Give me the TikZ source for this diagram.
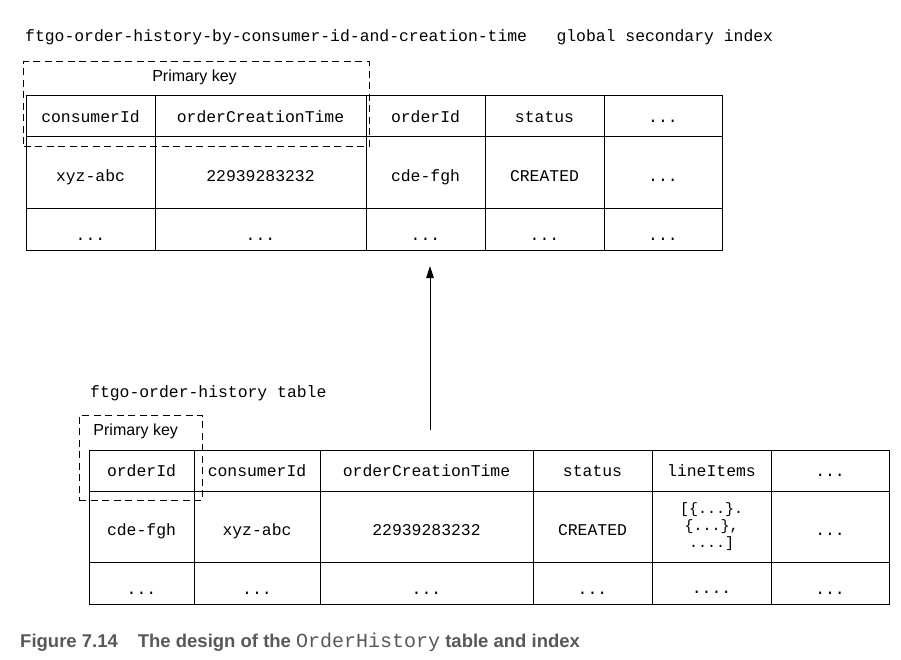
\documentclass[tikz,border=0pt]{standalone}
\usepackage{fontspec}
\setmainfont{Liberation Sans}
\setmonofont{Liberation Mono}
\usepackage{tikz}
\usetikzlibrary{positioning,arrows.meta}

\definecolor{capgray}{RGB}{88,88,88}
\newcommand\cellfont{\ttfamily\fontsize{16.4}{18}\selectfont}

\tikzset{
  cell/.style={draw, rectangle, inner sep=0pt, outer sep=0pt, line width=1pt, font=\cellfont},
  hdr/.style={cell, minimum height=41pt, text height=13.6pt, text depth=2pt},
  dat/.style={cell, minimum height=71.5pt, text height=21pt, text depth=3pt},
  etc/.style={cell, minimum height=42pt, text height=25pt, text depth=3pt},
  keybox/.style={draw, dash pattern=on 7pt off 4.5pt, line width=1pt, inner sep=0pt, outer sep=0pt, anchor=north west},
  keylabel/.style={font=\fontsize{16}{19}\selectfont, anchor=base, inner sep=0pt},
  tabletitle/.style={font=\cellfont, anchor=base west, inner sep=0pt},
}

\begin{document}
\begin{tikzpicture}[x=1pt,y=-1pt]
   \useasboundingbox (0,0) rectangle (901,660);

   % global secondary index
   \node[tabletitle] (gtitle) at (25,42) {ftgo-order-history-by-consumer-id-and-creation-time\ \ \ global secondary index};
   \node[hdr, minimum width=129pt, anchor=north west] (gh1) at (26,96) {consumerId};
   \node[hdr, minimum width=211pt, right=0pt of gh1] (gh2) {orderCreationTime};
   \node[hdr, minimum width=119pt, right=0pt of gh2] (gh3) {orderId};
   \node[hdr, minimum width=119pt, right=0pt of gh3] (gh4) {status};
   \node[hdr, minimum width=118pt, right=0pt of gh4] (gh5) {...};
   \node[dat, minimum width=129pt, below=0pt of gh1] (gd1) {xyz-abc};
   \node[dat, minimum width=211pt, below=0pt of gh2] (gd2) {22939283232};
   \node[dat, minimum width=119pt, below=0pt of gh3] (gd3) {cde-fgh};
   \node[dat, minimum width=119pt, below=0pt of gh4] (gd4) {CREATED};
   \node[dat, minimum width=118pt, below=0pt of gh5] (gd5) {...};
   \node[etc, minimum width=129pt, below=0pt of gd1] (ge1) {...};
   \node[etc, minimum width=211pt, below=0pt of gd2] (ge2) {...};
   \node[etc, minimum width=119pt, below=0pt of gd3] (ge3) {...};
   \node[etc, minimum width=119pt, below=0pt of gd4] (ge4) {...};
   \node[etc, minimum width=118pt, below=0pt of gd5] (ge5) {...};
   \node[keybox, minimum width=345.6pt, minimum height=84.3pt] (gkey) at (23.7,62) {};
   \node[keylabel] (gkeylbl) at (194.5,82) {Primary key};

   % order history table
   \node[tabletitle] (otitle) at (90,397) {ftgo-order-history table};
   \node[hdr, minimum width=105pt, anchor=north west] (oh1) at (89,450) {orderId};
   \node[hdr, minimum width=126pt, right=0pt of oh1] (oh2) {consumerId};
   \node[hdr, minimum width=213pt, right=0pt of oh2] (oh3) {orderCreationTime};
   \node[hdr, minimum width=119pt, right=0pt of oh3] (oh4) {status};
   \node[hdr, minimum width=119pt, right=0pt of oh4] (oh5) {lineItems};
   \node[hdr, minimum width=118pt, right=0pt of oh5] (oh6) {...};
   \node[dat, minimum width=105pt, below=0pt of oh1] (od1) {cde-fgh};
   \node[dat, minimum width=126pt, below=0pt of oh2] (od2) {xyz-abc};
   \node[dat, minimum width=213pt, below=0pt of oh3] (od3) {22939283232};
   \node[dat, minimum width=119pt, below=0pt of oh4] (od4) {CREATED};
   \node[dat, minimum width=119pt, below=0pt of oh5, align=center, text height={}, text depth={},
         font=\ttfamily\fontsize{15}{17}\selectfont] (od5) {[\{...\}.\\\{...\},\\....]};
   \node[dat, minimum width=118pt, below=0pt of oh6] (od6) {...};
   \node[etc, minimum width=105pt, below=0pt of od1] (oe1) {...};
   \node[etc, minimum width=126pt, below=0pt of od2] (oe2) {...};
   \node[etc, minimum width=213pt, below=0pt of od3] (oe3) {...};
   \node[etc, minimum width=119pt, below=0pt of od4] (oe4) {...};
   \node[etc, minimum width=119pt, below=0pt of od5, text height=22pt] (oe5) {....};
   \node[etc, minimum width=118pt, below=0pt of od6] (oe6) {...};
   \node[keybox, minimum width=123pt, minimum height=85.7pt] (okey) at (79.3,415) {};
   \node[keylabel] (okeylbl) at (135.7,435) {Primary key};

   % index is built from the table
   \coordinate (src) at (430,430);
   \coordinate (dst) at (430,266);
   \draw[-{Triangle[length=12pt,width=7.5pt]}, line width=1pt] (src) -- (dst);

   % caption
   \node[anchor=base west, inner sep=0pt, text=capgray, font=\bfseries\fontsize{18.5}{22}\selectfont] (cap) at (20,647)
     {Figure 7.14\hspace{20pt}The design of the {\mdseries\ttfamily\fontsize{20}{22}\selectfont OrderHistory} table and index};
\end{tikzpicture}
\end{document}
